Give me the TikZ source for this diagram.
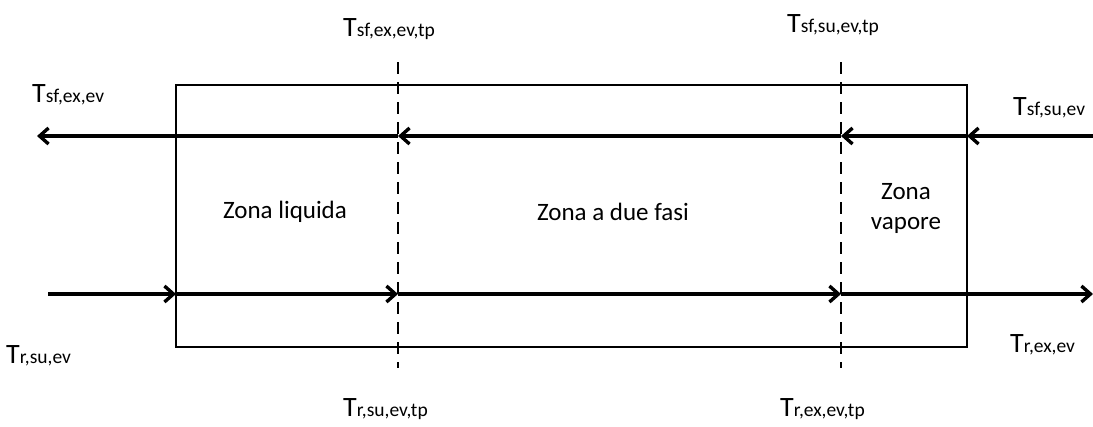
\documentclass[tikz,border=0pt]{standalone}
\usepackage{fontspec}
\setmainfont{Carlito}
\usetikzlibrary{arrows.meta}
\tikzset{
  flow/.style={line width=3.8pt, -{Straight Barb[length=9pt,width=16pt,line width=3.4pt]}},
  frame/.style={line width=2.7pt},
  divider/.style={line width=2.7pt, dash pattern=on 12pt off 8pt},
  lbl/.style={anchor=base west, inner sep=0pt, font=\fontsize{28}{32}\selectfont},
  zone/.style={align=center, inner sep=0pt, font=\fontsize{25}{30}\selectfont},
}
\newcommand{\tsub}[1]{T{\fontsize{19.5}{22}\selectfont #1}}
\begin{document}
\begin{tikzpicture}[x=1pt,y=-1pt]
\useasboundingbox (0,0) rectangle (1093,426);
% exchanger outline
\draw[frame] (176,85) rectangle (967,347);
% zone boundaries
\coordinate (d1t) at (398,62);
\coordinate (d1b) at (398,368);
\coordinate (d2t) at (841,62);
\coordinate (d2b) at (841,368);
\draw[divider] (d1t) -- (d1b);
\draw[divider] (d2t) -- (d2b);
% secondary fluid, flowing right to left
\coordinate (s0) at (1094,136);
\coordinate (s1) at (967,136);
\coordinate (s2) at (841,136);
\coordinate (s3) at (398,136);
\coordinate (s4) at (37,136);
\draw[flow] (s0) -- (s1);
\draw[flow] (s1) -- (s2);
\draw[flow] (s2) -- (s3);
\draw[flow] (s3) -- (s4);
% refrigerant, flowing left to right
\coordinate (r0) at (48,294);
\coordinate (r1) at (176,294);
\coordinate (r2) at (398,294);
\coordinate (r3) at (841,294);
\coordinate (r4) at (1093,294);
\draw[flow] (r0) -- (r1);
\draw[flow] (r1) -- (r2);
\draw[flow] (r2) -- (r3);
\draw[flow] (r3) -- (r4);
% zone names
\node[zone] (zl) at (285,212) {Zona liquida};
\node[zone] (zb) at (613,212) {Zona a due fasi};
\node[zone] (zv) at (906,208) {Zona\\vapore};
% temperatures
\node[lbl] (tsfexev) at (32,102) {\tsub{sf,ex,ev}};
\node[lbl] (tsfexevtp) at (343,36) {\tsub{sf,ex,ev,tp}};
\node[lbl] (tsfsuevtp) at (787,32) {\tsub{sf,su,ev,tp}};
\node[lbl] (tsfsuev) at (1013,115) {\tsub{sf,su,ev}};
\node[lbl] (trsuev) at (6,363) {\tsub{r,su,ev}};
\node[lbl] (trsuevtp) at (343,416) {\tsub{r,su,ev,tp}};
\node[lbl] (trexevtp) at (780,416) {\tsub{r,ex,ev,tp}};
\node[lbl] (trexev) at (1010,352) {\tsub{r,ex,ev}};
\end{tikzpicture}
\end{document}
